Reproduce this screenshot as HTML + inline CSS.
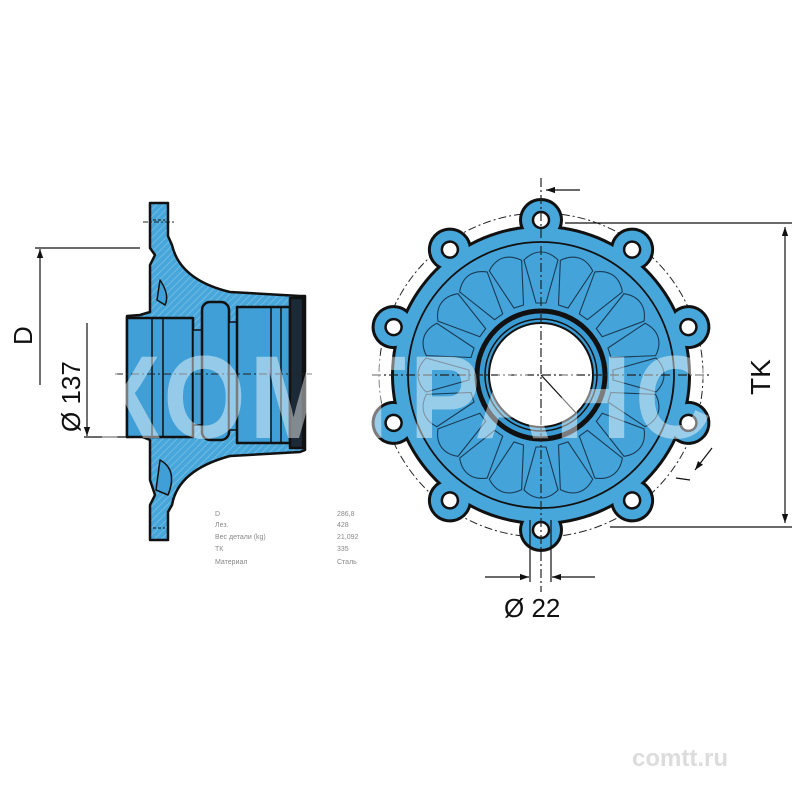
<!DOCTYPE html>
<html><head><meta charset="utf-8"><style>
html,body{margin:0;padding:0;background:#fff;}
svg{display:block;}
</style></head><body>
<svg width="800" height="800" viewBox="0 0 800 800" xmlns="http://www.w3.org/2000/svg" font-family="Liberation Sans, sans-serif">
<defs>
<marker id="ar" viewBox="0 0 10 10" refX="10" refY="5" markerWidth="9" markerHeight="9" orient="auto-start-reverse" markerUnits="userSpaceOnUse">
<path d="M0,1.5 L10,5 L0,8.5 z" fill="#111"/></marker>
<pattern id="hatch" width="5" height="5" patternUnits="userSpaceOnUse" patternTransform="rotate(45)">
<rect width="5" height="5" fill="#47a6da"/><line x1="0" y1="0" x2="0" y2="5" stroke="#7cc0e8" stroke-width="1.5"/></pattern>
</defs>
<rect width="800" height="800" fill="#fff"/>

<!-- ===== SIDE VIEW ===== -->
<g stroke="#111" stroke-width="2.5" stroke-linejoin="round">
<path fill="url(#hatch)" d="M150,203 L168,203 L168,236 L172,245 Q180,280 230,292 L300,296 L305,296 L305,450 L300,452 L230,456 Q178,470 172,505 L168,512 L168,540 L150,540 L150,505 L155,495 L150,480 L150,440 L140,436 L127,437 L127,316 L140,315 L150,312 L150,265 L155,255 L150,248 Z"/>
<rect x="127" y="318" width="66" height="119" fill="#3f9fd6"/>
<line x1="152" y1="318" x2="152" y2="437" stroke-width="1.5"/>
<line x1="163" y1="318" x2="163" y2="437" stroke-width="1.5"/>
<rect x="193" y="330" width="9" height="95" fill="#3f9fd6" stroke-width="1.5"/>
<rect x="202" y="302" width="27" height="138" rx="8" fill="#3f9fd6"/>
<rect x="229" y="322" width="8" height="108" fill="#3f9fd6" stroke-width="1.5"/>
<rect x="237" y="307" width="53" height="136" fill="#3f9fd6"/>
<line x1="271" y1="307" x2="271" y2="443" stroke-width="1.5"/>
<line x1="281" y1="307" x2="281" y2="443" stroke-width="1.5"/>
<rect x="290" y="298" width="13" height="150" fill="#1c2a38"/>
<path d="M153,220 L165,220 M153,528 L165,528" stroke-width="1" stroke-dasharray="3,2"/>
<path d="M160,280 Q170,295 165,305 L157,300 Z" fill="#3f9fd6" stroke-width="1.5"/>
<path d="M160,460 Q178,470 168,495 L156,490 Z" fill="#3f9fd6" stroke-width="1.5"/>
</g>
<line x1="115" y1="374" x2="312" y2="374" stroke="#222" stroke-width="1" stroke-dasharray="8,3,2,3"/>
<line x1="143" y1="222" x2="175" y2="222" stroke="#222" stroke-width="1" stroke-dasharray="5,2,2,2"/>

<g stroke="#111" stroke-width="1.2" fill="none">
<line x1="35" y1="248" x2="140" y2="248"/>
<line x1="40" y1="385" x2="40" y2="249" marker-end="url(#ar)"/>
<line x1="84" y1="437" x2="130" y2="437"/>
<line x1="87" y1="323" x2="87" y2="436" marker-end="url(#ar)"/>
</g>
<text x="0" y="0" font-size="26" fill="#111" transform="translate(32,345) rotate(-90)">D</text>
<text x="0" y="0" font-size="26" fill="#111" transform="translate(80,432) rotate(-90)">Ø 137</text>

<g font-size="7" fill="#888">
<text x="215" y="516">D</text><text x="337" y="516">286,8</text>
<text x="215" y="527">Лез.</text><text x="337" y="527">428</text>
<text x="215" y="539">Вес детали (kg)</text><text x="337" y="539">21,092</text>
<text x="215" y="551">ТК</text><text x="337" y="551">335</text>
<text x="215" y="564">Материал</text><text x="337" y="564">Сталь</text>
</g>

<!-- ===== FRONT VIEW ===== -->
<g transform="translate(541,375)">
<circle r="162" fill="none" stroke="#222" stroke-width="1" stroke-dasharray="8,3,2,3"/>
<g fill="#111">
<circle r="150"/>
<circle cx="0" cy="-155" r="22"/>
<circle cx="0" cy="-155" r="22" transform="rotate(36)"/>
<circle cx="0" cy="-155" r="22" transform="rotate(72)"/>
<circle cx="0" cy="-155" r="22" transform="rotate(108)"/>
<circle cx="0" cy="-155" r="22" transform="rotate(144)"/>
<circle cx="0" cy="-155" r="22" transform="rotate(180)"/>
<circle cx="0" cy="-155" r="22" transform="rotate(216)"/>
<circle cx="0" cy="-155" r="22" transform="rotate(252)"/>
<circle cx="0" cy="-155" r="22" transform="rotate(288)"/>
<circle cx="0" cy="-155" r="22" transform="rotate(324)"/>
</g>
<g fill="#47a6da">
<circle r="147"/>
<circle cx="0" cy="-155" r="19"/>
<circle cx="0" cy="-155" r="19" transform="rotate(36)"/>
<circle cx="0" cy="-155" r="19" transform="rotate(72)"/>
<circle cx="0" cy="-155" r="19" transform="rotate(108)"/>
<circle cx="0" cy="-155" r="19" transform="rotate(144)"/>
<circle cx="0" cy="-155" r="19" transform="rotate(180)"/>
<circle cx="0" cy="-155" r="19" transform="rotate(216)"/>
<circle cx="0" cy="-155" r="19" transform="rotate(252)"/>
<circle cx="0" cy="-155" r="19" transform="rotate(288)"/>
<circle cx="0" cy="-155" r="19" transform="rotate(324)"/>
</g>
<g fill="#fff" stroke="#111" stroke-width="2.5">
<circle cx="0" cy="-155" r="8"/>
<circle cx="0" cy="-155" r="8" transform="rotate(36)"/>
<circle cx="0" cy="-155" r="8" transform="rotate(72)"/>
<circle cx="0" cy="-155" r="8" transform="rotate(108)"/>
<circle cx="0" cy="-155" r="8" transform="rotate(144)"/>
<circle cx="0" cy="-155" r="8" transform="rotate(180)"/>
<circle cx="0" cy="-155" r="8" transform="rotate(216)"/>
<circle cx="0" cy="-155" r="8" transform="rotate(252)"/>
<circle cx="0" cy="-155" r="8" transform="rotate(288)"/>
<circle cx="0" cy="-155" r="8" transform="rotate(324)"/>
</g>
<circle r="133" fill="#44a4d9" stroke="#111" stroke-width="1.8"/>
<g fill="none" stroke="#1a3a55" stroke-width="1.1">
<g id="sp"><path d="M-5,-72 L-17,-115 Q-9,-123 0,-123 Q9,-123 17,-115 L5,-72 Z"/></g>
<use href="#sp" transform="rotate(18)"/><use href="#sp" transform="rotate(36)"/><use href="#sp" transform="rotate(54)"/>
<use href="#sp" transform="rotate(72)"/><use href="#sp" transform="rotate(90)"/><use href="#sp" transform="rotate(108)"/>
<use href="#sp" transform="rotate(126)"/><use href="#sp" transform="rotate(144)"/><use href="#sp" transform="rotate(162)"/>
<use href="#sp" transform="rotate(180)"/><use href="#sp" transform="rotate(198)"/><use href="#sp" transform="rotate(216)"/>
<use href="#sp" transform="rotate(234)"/><use href="#sp" transform="rotate(252)"/><use href="#sp" transform="rotate(270)"/>
<use href="#sp" transform="rotate(288)"/><use href="#sp" transform="rotate(306)"/><use href="#sp" transform="rotate(324)"/>
<use href="#sp" transform="rotate(342)"/>
</g>
<circle r="64" fill="#3a9bd2" stroke="#111" stroke-width="5"/>
<circle r="56" fill="none" stroke="#111" stroke-width="1.5"/>
<circle r="52" fill="#fff" stroke="#111" stroke-width="2"/>
<line x1="0" y1="0" x2="35" y2="38" stroke="#111" stroke-width="1.2"/>
</g>
<g stroke="#222" stroke-width="1.2" stroke-dasharray="9,3,2,3">
<line x1="541" y1="178" x2="541" y2="592"/>
<line x1="372" y1="375" x2="712" y2="375"/>
</g>

<g stroke="#111" stroke-width="1.2" fill="none">
<line x1="580" y1="190" x2="546" y2="190" marker-end="url(#ar)"/>
<line x1="565" y1="223" x2="792" y2="223"/>
<line x1="610" y1="527" x2="792" y2="527"/>
<line x1="785" y1="227" x2="785" y2="523" marker-start="url(#ar)" marker-end="url(#ar)"/>
<line x1="530" y1="520" x2="530" y2="582"/>
<line x1="551" y1="520" x2="551" y2="582"/>
<line x1="485" y1="577" x2="529" y2="577" marker-end="url(#ar)"/>
<line x1="595" y1="577" x2="552" y2="577" marker-end="url(#ar)"/>
<line x1="712" y1="448" x2="695" y2="470" marker-end="url(#ar)"/>
<line x1="676" y1="478" x2="690" y2="480"/>
</g>
<text x="0" y="0" font-size="28" fill="#111" transform="translate(770,395) rotate(-90)">TK</text>
<text x="504" y="617" font-size="26" fill="#111">Ø 22</text>

<text x="405" y="438" text-anchor="middle" font-size="118" font-weight="bold" fill="#fff" fill-opacity="0.45" letter-spacing="4" textLength="620" lengthAdjust="spacingAndGlyphs">КОМТРАНС</text>

<text x="632" y="766" font-size="24" font-weight="bold" fill="#dcdcdc">comtt.ru</text>
</svg>
</body></html>
